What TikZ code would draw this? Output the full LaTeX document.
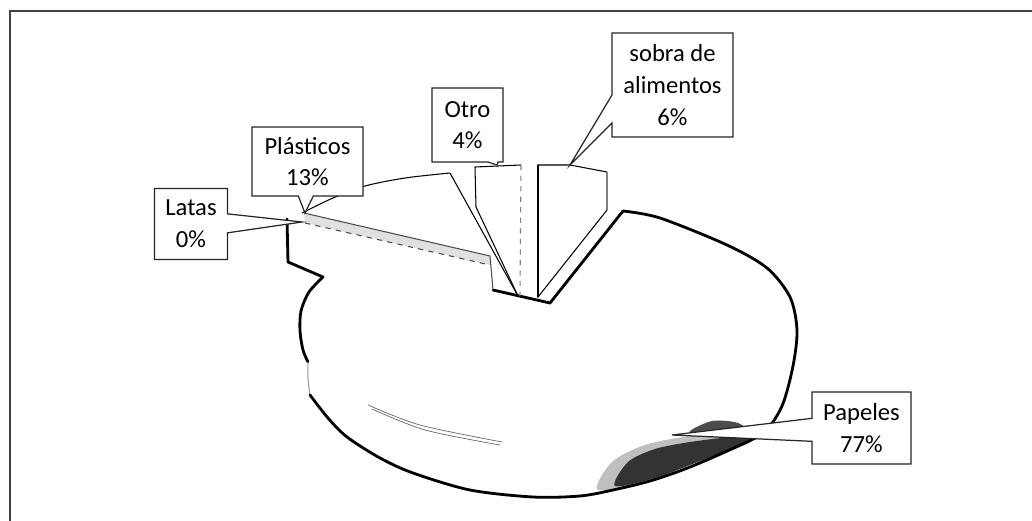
\documentclass[tikz,border=0pt]{standalone}
\usepackage{fontspec}
\setmainfont{Carlito}
\usetikzlibrary{shapes.callouts}

\begin{document}
\begin{tikzpicture}[x=0.02cm,y=-0.02cm,
  etiqueta/.style={rectangle callout,draw=black!85,line width=0.7pt,fill=white,align=center,inner sep=0pt,font=\fontsize{14}{18}\selectfont},
  borde/.style={line width=1.6pt,line join=round,line cap=round},
  fino/.style={line width=0.6pt,line join=round}]
\useasboundingbox (0,0) rectangle (1032,521);
\fill[white] (0,0) rectangle (1032,521);
% marco
\draw[black!75,line width=0.8pt] (1032,11)--(10,11)--(10,521);
% Papeles
\fill[black!25] plot[smooth cycle] coordinates {(598,490) (612,462) (645,445) (690,436) (735,432) (760,434) (730,450) (700,461) (650,480)};
\fill[black!80] plot[smooth cycle] coordinates {(615,486) (628,462) (655,449) (690,442) (730,437) (757,435) (728,450) (695,463) (655,478)};
\fill[black!70] plot[smooth cycle] coordinates {(690,433) (712,421) (738,423) (746,433)};
\draw[borde] (287,219)--(288,262)--(323,277);
\draw[borde] plot[smooth] coordinates {(323,277) (309,292) (301,311) (300,331) (303,350) (308,362)};
\draw[black!40,line width=0.6pt] plot[smooth] coordinates {(308,362) (308,378) (310,395)};
\draw[borde] plot[smooth] coordinates {(310,395) (328,418) (347,437) (380,458) (413,473) (470,490) (533,497) (580,496) (613,490) (650,481) (685,469) (725,452) (763,433) (782,406) (793,366) (797,330) (790,297) (767,268) (727,245) (660,218) (623,211)};
\draw[borde] (623,211)--(550,303)--(493,290);
\draw[black!60,line width=0.4pt] plot[smooth] coordinates {(368,405) (420,425) (502,442)};
\draw[black!60,line width=0.4pt] plot[smooth] coordinates {(372,409) (425,430) (500,445)};
% Plasticos
\fill[black!12] (304,213)--(490,256)--(490,265)--(305,223)--cycle;
\draw[fino,black!70] (304,213)--(490,256)--(493,290);
\draw[fino,black!70,dashed] (305,223)--(490,265);
\draw[fino] plot[smooth] coordinates {(302,213) (333,198) (365,186) (405,178) (450,173)};
\draw[fino] (450,173)--(518,296);
% Otro
\draw[fino] (518,296)--(476,207)--(475,167)--(521,165);
\draw[fino,black!50,dashed] (521,165)--(520,296);
% sobra de alimentos
\draw[borde,line width=1pt] (538,297)--(538,165);
\draw[fino] (538,165)--(570,165)--(607,172);
\draw[fino,black!50] (607,172)--(607,210);
\draw[fino] (607,210)--(538,297);
% etiquetas
\coordinate (puntaLatas) at (302,222);
\coordinate (puntaPlasticos) at (305,213);
\coordinate (puntaOtro) at (497,165);
\coordinate (puntaSobra) at (570,165);
\coordinate (puntaPapeles) at (672,435);
\node[etiqueta,minimum width=1.46cm,minimum height=1.42cm,callout absolute pointer={(puntaLatas)},callout pointer width=0.38cm] (latas) at (191,224) {Latas\\0\%};
\node[etiqueta,minimum width=2.22cm,minimum height=1.38cm,callout absolute pointer={(puntaPlasticos)},callout pointer width=0.3cm] (plasticos) at (307.5,161.5) {Plásticos\\13\%};
\node[etiqueta,minimum width=1.42cm,minimum height=1.48cm,callout absolute pointer={(puntaOtro)},callout pointer width=0.2cm] (otro) at (467.5,125) {Otro\\4\%};
\node[etiqueta,minimum width=2.42cm,minimum height=2.08cm,callout absolute pointer={(puntaSobra)},callout pointer width=0.56cm] (sobra) at (672.5,85) {sobra de\\alimentos\\6\%};
\node[etiqueta,minimum width=1.98cm,minimum height=1.44cm,callout absolute pointer={(puntaPapeles)},callout pointer width=0.46cm] (papeles) at (861.5,428) {Papeles\\77\%};
\end{tikzpicture}
\end{document}
